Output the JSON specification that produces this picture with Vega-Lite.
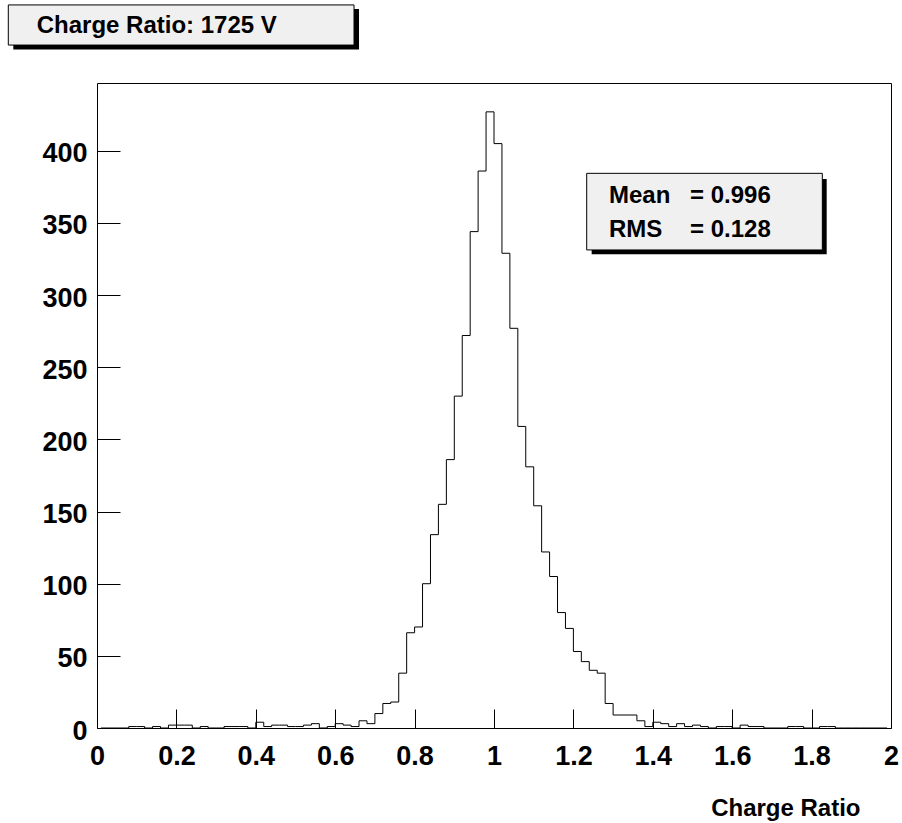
{
  "$schema": "https://vega.github.io/schema/vega-lite/v6.json",
  "width": 794,
  "height": 645,
  "autosize": "none",
  "padding": {"left": 97, "top": 83, "right": 11, "bottom": 95},
  "background": "white",
  "config": {"view": {"stroke": "#000", "strokeWidth": 1}, "font": "Liberation Sans"},
  "layer": [
    {
      "data": {"values": [
        {"x":0.01,"count":0},{"x":0.03,"count":0},{"x":0.05,"count":0},{"x":0.07,"count":0},{"x":0.09,"count":1},
        {"x":0.11,"count":1},{"x":0.13,"count":0},{"x":0.15,"count":1},{"x":0.17,"count":0},{"x":0.19,"count":2},
        {"x":0.21,"count":2},{"x":0.23,"count":2},{"x":0.25,"count":0},{"x":0.27,"count":1},{"x":0.29,"count":0},
        {"x":0.31,"count":0},{"x":0.33,"count":1},{"x":0.35,"count":1},{"x":0.37,"count":1},{"x":0.39,"count":0},
        {"x":0.41,"count":4},{"x":0.43,"count":1},{"x":0.45,"count":2},{"x":0.47,"count":2},{"x":0.49,"count":1},
        {"x":0.51,"count":1},{"x":0.53,"count":2},{"x":0.55,"count":3},{"x":0.57,"count":0},{"x":0.59,"count":1},
        {"x":0.61,"count":3},{"x":0.63,"count":2},{"x":0.65,"count":1},{"x":0.67,"count":5},{"x":0.69,"count":3},
        {"x":0.71,"count":10},{"x":0.73,"count":17},{"x":0.75,"count":18},{"x":0.77,"count":38},{"x":0.79,"count":66},
        {"x":0.81,"count":70},{"x":0.83,"count":100},{"x":0.85,"count":134},{"x":0.87,"count":155},{"x":0.89,"count":186},
        {"x":0.91,"count":230},{"x":0.93,"count":272},{"x":0.95,"count":344},{"x":0.97,"count":386},{"x":0.99,"count":427},
        {"x":1.01,"count":405},{"x":1.03,"count":329},{"x":1.05,"count":277},{"x":1.07,"count":209},{"x":1.09,"count":181},
        {"x":1.11,"count":154},{"x":1.13,"count":122},{"x":1.15,"count":105},{"x":1.17,"count":80},{"x":1.19,"count":69},
        {"x":1.21,"count":53},{"x":1.23,"count":46},{"x":1.25,"count":40},{"x":1.27,"count":38},{"x":1.29,"count":17},
        {"x":1.31,"count":9},{"x":1.33,"count":9},{"x":1.35,"count":9},{"x":1.37,"count":5},{"x":1.39,"count":1},
        {"x":1.41,"count":4},{"x":1.43,"count":3},{"x":1.45,"count":1},{"x":1.47,"count":3},{"x":1.49,"count":1},
        {"x":1.51,"count":2},{"x":1.53,"count":1},{"x":1.55,"count":0},{"x":1.57,"count":1},{"x":1.59,"count":1},
        {"x":1.61,"count":0},{"x":1.63,"count":2},{"x":1.65,"count":1},{"x":1.67,"count":1},{"x":1.69,"count":0},
        {"x":1.71,"count":0},{"x":1.73,"count":0},{"x":1.75,"count":1},{"x":1.77,"count":1},{"x":1.79,"count":0},
        {"x":1.81,"count":0},{"x":1.83,"count":1},{"x":1.85,"count":1},{"x":1.87,"count":0},{"x":1.89,"count":0},
        {"x":1.91,"count":0},{"x":1.93,"count":0},{"x":1.95,"count":0},{"x":1.97,"count":0},{"x":1.99,"count":0}
      ]},
      "mark": {"type": "line", "interpolate": "step", "color": "#000", "strokeWidth": 1},
      "encoding": {
        "x": {"field": "x", "type": "quantitative",
          "scale": {"domain": [0, 2], "nice": false, "zero": false},
          "axis": {
            "values": [0,0.05,0.1,0.15,0.2,0.25,0.3,0.35,0.4,0.45,0.5,0.55,0.6,0.65,0.7,0.75,0.8,0.85,0.9,0.95,1,1.05,1.1,1.15,1.2,1.25,1.3,1.35,1.4,1.45,1.5,1.55,1.6,1.65,1.7,1.75,1.8,1.85,1.9,1.95,2],
            "format": ".2~f",
            "labelExpr": "abs(datum.value*5 - round(datum.value*5)) < 0.001 ? datum.label : ''",
            "labelFont": "Liberation Sans", "labelFontWeight": "bold", "labelFontSize": 27, "labelColor": "#000",
            "labelPadding": 34, "labelFlush": false, "labelOverlap": false,
            "tickSize": {"condition": {"test": "abs(datum.value*5 - round(datum.value*5)) < 0.001", "value": -19}, "value": -10},
            "tickColor": "#000", "tickWidth": 1, "domain": false, "grid": false,
            "title": "Charge Ratio", "titleFont": "Liberation Sans", "titleFontWeight": "bold", "titleFontSize": 24, "titleColor": "#000",
            "titleAlign": "right", "titleAnchor": null, "titleX": 763, "titleY": 87, "titleBaseline": "alphabetic"
          }
        },
        "y": {"field": "count", "type": "quantitative",
          "scale": {"domain": [0, 447], "nice": false},
          "axis": {
            "values": [0,25,50,75,100,125,150,175,200,225,250,275,300,325,350,375,400,425],
            "labelExpr": "datum.value % 50 == 0 ? datum.label : ''",
            "labelFont": "Liberation Sans", "labelFontWeight": "bold", "labelFontSize": 27, "labelColor": "#000",
            "labelPadding": 33, "labelOffset": 3, "labelFlush": false, "labelOverlap": false,
            "tickSize": {"condition": {"test": "datum.value % 50 == 0", "value": -23}, "value": -11},
            "tickColor": "#000", "tickWidth": 1, "domain": false, "grid": false, "title": null
          }
        }
      }
    },
    {
      "data": {"values": [{}]},
      "mark": {"type": "rect", "fill": "#000"},
      "encoding": {
        "x": {"datum": 1.246, "type": "quantitative"}, "x2": {"datum": 1.838},
        "y": {"datum": 328.3, "type": "quantitative"}, "y2": {"datum": 380.5}
      }
    },
    {
      "data": {"values": [{}]},
      "mark": {"type": "rect", "fill": "#f0f0f0", "stroke": "#000", "strokeWidth": 1},
      "encoding": {
        "x": {"datum": 1.2335, "type": "quantitative"}, "x2": {"datum": 1.827},
        "y": {"datum": 331.3, "type": "quantitative"}, "y2": {"datum": 384.4}
      }
    },
    {
      "data": {"values": [{"label": "Mean"}]},
      "mark": {"type": "text", "align": "left", "baseline": "alphabetic", "font": "Liberation Sans", "fontWeight": "bold", "fontSize": 24, "color": "#000"},
      "encoding": {"x": {"datum": 1.2897, "type": "quantitative"}, "y": {"datum": 363.8, "type": "quantitative"}, "text": {"field": "label"}}
    },
    {
      "data": {"values": [{"label": "= 0.996"}]},
      "mark": {"type": "text", "align": "left", "baseline": "alphabetic", "font": "Liberation Sans", "fontWeight": "bold", "fontSize": 24, "color": "#000"},
      "encoding": {"x": {"datum": 1.4937, "type": "quantitative"}, "y": {"datum": 363.8, "type": "quantitative"}, "text": {"field": "label"}}
    },
    {
      "data": {"values": [{"label": "RMS"}]},
      "mark": {"type": "text", "align": "left", "baseline": "alphabetic", "font": "Liberation Sans", "fontWeight": "bold", "fontSize": 24, "color": "#000"},
      "encoding": {"x": {"datum": 1.2897, "type": "quantitative"}, "y": {"datum": 340.5, "type": "quantitative"}, "text": {"field": "label"}}
    },
    {
      "data": {"values": [{"label": "= 0.128"}]},
      "mark": {"type": "text", "align": "left", "baseline": "alphabetic", "font": "Liberation Sans", "fontWeight": "bold", "fontSize": 24, "color": "#000"},
      "encoding": {"x": {"datum": 1.4937, "type": "quantitative"}, "y": {"datum": 340.5, "type": "quantitative"}, "text": {"field": "label"}}
    },
    {
      "data": {"values": [{}]},
      "mark": {"type": "rect", "fill": "#000"},
      "encoding": {
        "x": {"datum": -0.2108, "type": "quantitative"}, "x2": {"datum": 0.66},
        "y": {"datum": 470.3, "type": "quantitative"}, "y2": {"datum": 498.3}
      }
    },
    {
      "data": {"values": [{}]},
      "mark": {"type": "rect", "fill": "#f0f0f0", "stroke": "#000", "strokeWidth": 1},
      "encoding": {
        "x": {"datum": -0.2234, "type": "quantitative"}, "x2": {"datum": 0.6474},
        "y": {"datum": 473.3, "type": "quantitative"}, "y2": {"datum": 501.1}
      }
    },
    {
      "data": {"values": [{"label": "Charge Ratio: 1725 V"}]},
      "mark": {"type": "text", "align": "left", "baseline": "alphabetic", "font": "Liberation Sans", "fontWeight": "bold", "fontSize": 24, "color": "#000"},
      "encoding": {"x": {"datum": -0.1519, "type": "quantitative"}, "y": {"datum": 481.4, "type": "quantitative"}, "text": {"field": "label"}}
    }
  ]
}
